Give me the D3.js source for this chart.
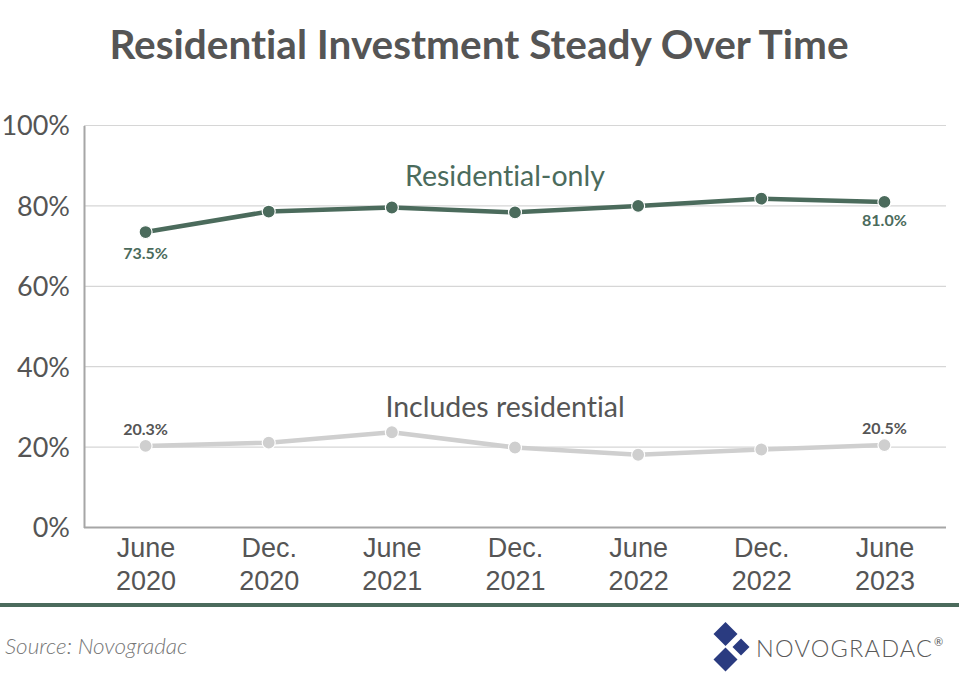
<!DOCTYPE html>
<html><head><meta charset="utf-8">
<script src="https://cdn.jsdelivr.net/npm/d3@7"></script>
<style>
html,body{margin:0;padding:0;background:#fff;}
svg{display:block;font-family:Lato,"Open Sans",sans-serif;font-variant-ligatures:none;font-feature-settings:"liga" 0;}
</style></head>
<body>
<svg id="c" width="959" height="684"></svg>
<script>
const categories = [["June","2020"],["Dec.","2020"],["June","2021"],["Dec.","2021"],["June","2022"],["Dec.","2022"],["June","2023"]];
const residentialOnly = [73.5, 78.6, 79.6, 78.4, 80.0, 81.8, 81.0];
const includesResidential = [20.3, 21.1, 23.7, 19.9, 18.1, 19.4, 20.5];
const yTicks = [0, 20, 40, 60, 80, 100];

const svg = d3.select("#c");
const m = {left:84, right:946, top:125.5, bottom:527.5};
const keys = categories.map((d,i)=>i);
const x = d3.scalePoint().domain(keys).range([m.left, m.right]).padding(0.5);
const y = d3.scaleLinear().domain([0,100]).range([m.bottom, m.top]);

// title
svg.append("text").attr("x",479).attr("y",59).attr("text-anchor","middle")
  .attr("font-size",40.5).attr("font-weight",700).attr("fill","#555555")
  .text("Residential Investment Steady Over Time");

// gridlines
svg.append("g").selectAll("line").data(yTicks.filter(t=>t>0)).join("line")
  .attr("x1",m.left).attr("x2",m.right).attr("y1",d=>y(d)).attr("y2",d=>y(d))
  .attr("stroke","#d6d6d6").attr("stroke-width",1.2);

// y axis
const yAxis = svg.append("g").attr("transform",`translate(${m.left},0)`)
  .call(d3.axisLeft(y).tickValues(yTicks).tickSize(0).tickPadding(14).tickFormat(d=>d+"%"));
yAxis.select(".domain").attr("stroke","#a6a6a6").attr("stroke-width",2);
yAxis.selectAll("text").attr("font-size",27).attr("fill","#555555").attr("font-weight",400)
  .attr("font-family","Lato").attr("dy","0.35em");

// x axis
const xAxis = svg.append("g").attr("transform",`translate(0,${m.bottom})`)
  .call(d3.axisBottom(x).tickSize(0).tickFormat(""));
xAxis.select(".domain").attr("stroke","#a6a6a6").attr("stroke-width",2).attr("d",`M${m.left},0H${m.right}`);
xAxis.selectAll(".tick").each(function(d){
  const t = d3.select(this).append("text").attr("text-anchor","middle")
    .attr("font-size",27).attr("fill","#555555").attr("font-weight",300);
  t.append("tspan").attr("x",0).attr("y",29).text(categories[d][0]);
  t.append("tspan").attr("x",0).attr("y",62).text(categories[d][1]);
});

const line = d3.line().x((d,i)=>x(i)).y(d=>y(d));
function series(vals, color){
  svg.append("path").datum(vals).attr("d",line).attr("fill","none")
    .attr("stroke",color).attr("stroke-width",4.5).attr("stroke-linejoin","round");
  svg.append("g").selectAll("circle").data(vals).join("circle")
    .attr("cx",(d,i)=>x(i)).attr("cy",d=>y(d)).attr("r",6.5)
    .attr("fill",color).attr("stroke","#fff").attr("stroke-width",1.2);
}
const green = "#4b6b5c", gray = "#cfcfcf";
series(includesResidential, gray);
series(residentialOnly, green);

// data labels
function lab(i, v, dy, color){
  svg.append("text").attr("x",x(i)).attr("y",y(v)+dy).attr("text-anchor","middle")
    .attr("font-size",16).attr("font-weight",700).attr("fill",color)
    .text(v.toFixed(1)+"%");
}
const last = categories.length-1;
lab(0, residentialOnly[0], 27, green);
lab(last, residentialOnly[last], 24, green);
lab(0, includesResidential[0], -11, "#555555");
lab(last, includesResidential[last], -11, "#555555");

// series names
svg.append("text").attr("x",505).attr("y",186).attr("text-anchor","middle")
  .attr("font-size",28.5).attr("fill",green).text("Residential-only");
svg.append("text").attr("x",505).attr("y",417).attr("text-anchor","middle")
  .attr("font-size",28.5).attr("fill","#555555").text("Includes residential");

// footer rule
svg.append("rect").attr("x",0).attr("y",603).attr("width",959).attr("height",4).attr("fill",green);
svg.append("text").attr("x",5).attr("y",654).attr("font-size",22.5).attr("font-style","italic")
  .attr("fill","#777777").attr("font-weight",300).text("Source: Novogradac");

// logo
const navy = "#2a3b80";
function diamond(cx, cy, h){
  svg.append("path").attr("d",`M${cx},${cy-h}L${cx+h},${cy}L${cx},${cy+h}L${cx-h},${cy}Z`).attr("fill",navy);
}
diamond(725.5, 634, 12);
diamond(741, 647, 8.5);
diamond(725.5, 659.5, 12);
svg.append("text").attr("x",756).attr("y",657).attr("font-size",23.5)
  .attr("fill","#5a5a5a").attr("font-weight",300).attr("textLength",176).text("NOVOGRADAC");
svg.append("text").attr("x",934).attr("y",646).attr("font-size",11).attr("fill","#5a5a5a").text("®");
</script>
</body></html>
